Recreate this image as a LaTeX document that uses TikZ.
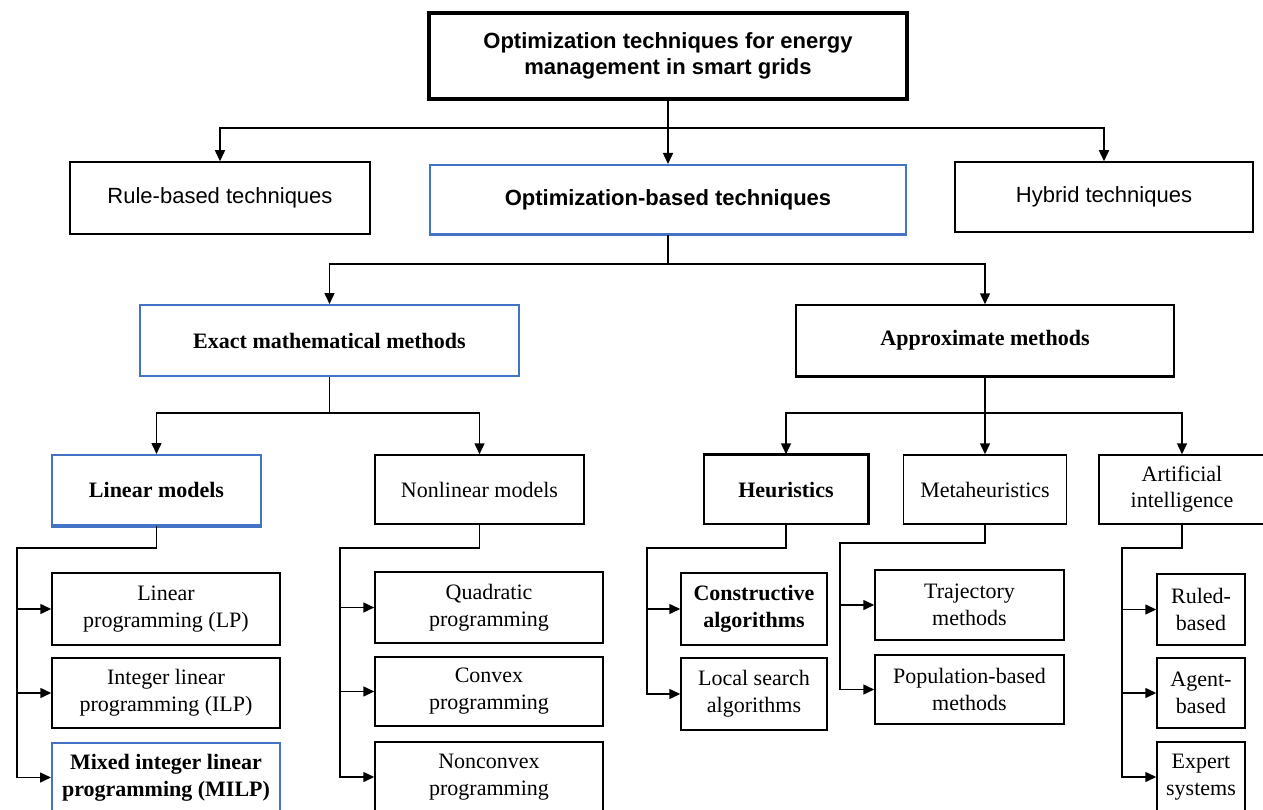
\documentclass[tikz,border=0pt]{standalone}
\usepackage{fontspec}
\setmainfont{Liberation Serif}
\setsansfont{Liberation Sans}
\usetikzlibrary{arrows.meta}
\definecolor{bblue}{RGB}{68,114,196}
\tikzset{
  box/.style={draw=black, line width=1.5pt, fill=white, inner sep=0pt, align=center,
    font=\fontsize{22}{27}\selectfont},
  sbox/.style={box, font=\sffamily\fontsize{22}{27}\selectfont},
  bluebox/.style={draw=bblue, line width=2pt},
  arr/.style={line width=1.5pt, -{Triangle[length=11pt,width=10pt]}},
  ln/.style={line width=1.5pt},
  sz/.style 2 args={minimum width=#1pt, minimum height=#2pt},
}
\begin{document}
\begin{tikzpicture}[x=1pt,y=-1pt]
\useasboundingbox (0,0) rectangle (1263,810);
% row 1
\node[sbox, line width=3.5pt, sz={478}{86}, font=\sffamily\bfseries\fontsize{22}{26}\selectfont] (top) at (668,56) {Optimization techniques for energy\\management in smart grids};
% row 2
\node[sbox, sz={300}{72}] (rule) at (220,198) {Rule-based techniques};
\node[sbox, bluebox, sz={476}{69}, font=\sffamily\bfseries\fontsize{22}{27}\selectfont] (opt) at (668,199.5) {Optimization-based techniques};
\node[sbox, sz={298}{70}] (hyb) at (1104,197) {Hybrid techniques};
% row 3
\node[box, bluebox, sz={379}{71}, font=\bfseries\fontsize{22}{27}\selectfont] (exact) at (329.5,340.5) {Exact mathematical methods};
\node[box, sz={378}{71}, font=\bfseries\fontsize{22}{27}\selectfont] (approx) at (985,340.5) {Approximate methods};
% row 4
\node[box, bluebox, sz={209}{70}, font=\bfseries\fontsize{22}{27}\selectfont] (linm) at (156.5,490) {Linear models};
\node[box, sz={209}{69}] (nonl) at (479.5,489.5) {Nonlinear models};
\node[box, sz={164}{69}, font=\bfseries\fontsize{22}{27}\selectfont] (heu) at (786,489.5) {Heuristics};
\node[box, sz={163}{69}] (meta) at (985,489.5) {Metaheuristics};
\node[box, sz={166}{69}, font=\fontsize{22}{26}\selectfont] (ai) at (1182,489.5) {Artificial\\intelligence};
% row 5
\node[box, sz={228}{72}] (lp) at (166,609) {Linear\\programming (LP)};
\node[box, sz={228}{70}] (ilp) at (166,693) {Integer linear\\programming (ILP)};
\node[box, bluebox, sz={228}{69}, font=\bfseries\fontsize{22}{27}\selectfont] (milp) at (166,777.5) {Mixed integer linear\\programming (MILP)};
\node[box, sz={228}{71}] (quad) at (489,607.5) {Quadratic\\programming};
\node[box, sz={228}{69}] (conv) at (489,691.5) {Convex\\programming};
\node[box, sz={228}{70}] (ncv) at (489,777) {Nonconvex\\programming};
\node[box, sz={146}{72}, font=\bfseries\fontsize{22}{27}\selectfont] (cons) at (754,609) {Constructive\\algorithms};
\node[box, sz={146}{72}] (loc) at (754,694) {Local search\\algorithms};
\node[box, sz={189}{70}] (traj) at (969.5,605) {Trajectory\\methods};
\node[box, sz={189}{69}] (pop) at (969.5,689.5) {Population-based\\methods};
\node[box, sz={88}{71}] (ruled) at (1201,609.5) {Ruled-\\based};
\node[box, sz={88}{70}] (agent) at (1201,693) {Agent-\\based};
\node[box, sz={88}{70}] (expert) at (1201,777) {Expert\\systems};
% accent edges
\draw[line width=3pt] (heu.north west) -- (heu.north east) -- (heu.south east);
\draw[line width=3pt] (approx.south west) -- (approx.south east);
\draw[bblue, line width=3pt] (linm.south west) -- (linm.south east);
\draw[bblue, line width=3pt] (opt.south west) -- (opt.south east);
% buses
\coordinate (b1) at (668,128);
\coordinate (b2) at (668,264);
\coordinate (b3) at (329.5,413);
\coordinate (b4) at (985,413);
\coordinate (lbus) at (17,548);
\coordinate (nbus) at (340,548);
\coordinate (hbus) at (647,548);
\coordinate (mbus) at (840,543);
\coordinate (abus) at (1122,548);
% connectors
\draw[arr] (top.south) -- (opt.north);
\draw[arr] (b1) -| (rule.north);
\draw[arr] (b1) -| (hyb.north);
\draw[ln] (opt.south) -- (b2);
\draw[arr] (b2) -| (exact.north);
\draw[arr] (b2) -| (approx.north);
\draw[ln] (exact.south) -- (b3);
\draw[arr] (b3) -| (linm.north);
\draw[arr] (b3) -| (nonl.north);
\draw[ln] (approx.south) -- (b4);
\draw[arr] (b4) -| (heu.north);
\draw[arr] (b4) -- (meta.north);
\draw[arr] (b4) -| (ai.north);
% left buses
\draw[arr] (linm.south) |- (lbus) |- (milp.west);
\draw[arr] (lbus |- lp.west) -- (lp.west);
\draw[arr] (lbus |- ilp.west) -- (ilp.west);
\draw[arr] (nonl.south) |- (nbus) |- (ncv.west);
\draw[arr] (nbus |- quad.west) -- (quad.west);
\draw[arr] (nbus |- conv.west) -- (conv.west);
\draw[arr] (heu.south) |- (hbus) |- (loc.west);
\draw[arr] (hbus |- cons.west) -- (cons.west);
\draw[arr] (meta.south) |- (mbus) |- (pop.west);
\draw[arr] (mbus |- traj.west) -- (traj.west);
\draw[arr] (ai.south) |- (abus) |- (expert.west);
\draw[arr] (abus |- ruled.west) -- (ruled.west);
\draw[arr] (abus |- agent.west) -- (agent.west);
\end{tikzpicture}
\end{document}
